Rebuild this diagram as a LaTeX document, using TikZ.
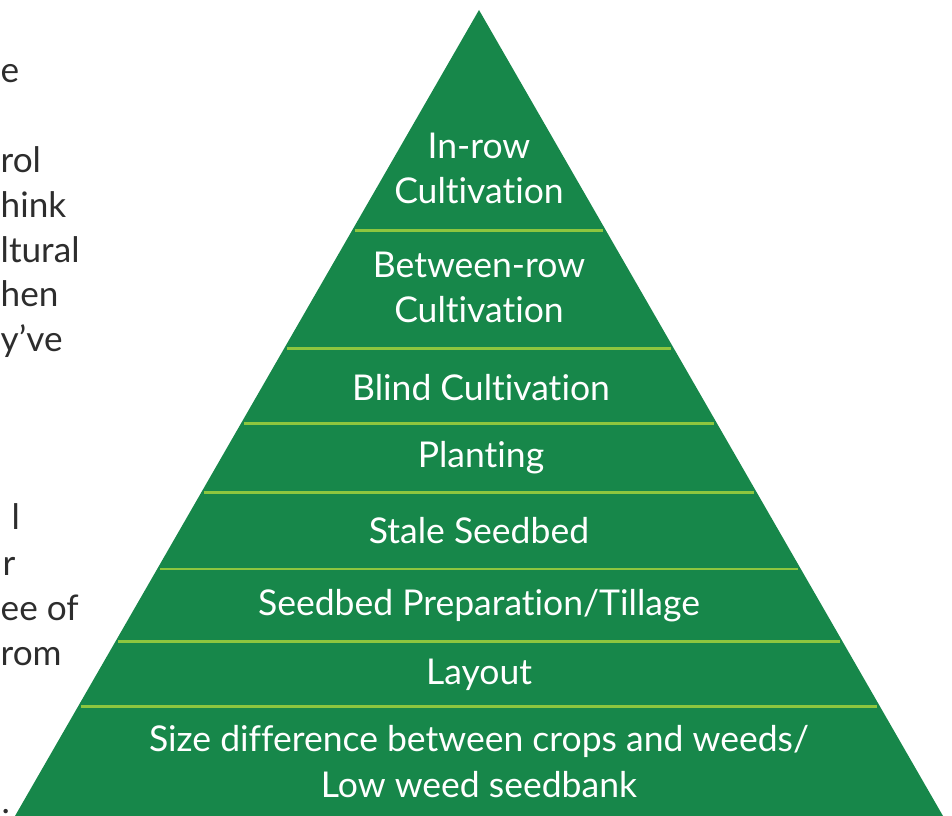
\documentclass[tikz,border=0pt]{standalone}
\usepackage{fontspec}
\setmainfont{Lato}[Ligatures=NoCommon]
\usetikzlibrary{positioning}
\definecolor{pyrgreen}{RGB}{23,135,74}
\definecolor{seplime}{RGB}{141,198,63}
\definecolor{bodygray}{RGB}{45,45,45}

\begin{document}
\begin{tikzpicture}[
    x=0.01cm, y=-0.01cm,
    lvl/.style={align=center, anchor=base, inner sep=0pt, text=white,
                font=\fontsize{10.1}{12.8}\selectfont},
    sep/.style={seplime, line width=0.8pt},
    frag/.style={anchor=base west, inner sep=0pt, text=bodygray,
                 font=\fontsize{10}{12.8}\selectfont}
]
\useasboundingbox (0,0) rectangle (952,816);

% ---- Body text cut at the page edge ----
\node[frag] (t1) at (0,83) {e};
\node[frag] (t2) at (0,173) {rol};
\node[frag] (t3) at (0,218) {hink};
\node[frag] (t4) at (0,263) {ltural};
\node[frag] (t5) at (0,307) {hen};
\node[frag] (t6) at (0,352) {y’ve};
\node[frag] (t7) at (11,530) {l};
\node[frag] (t8) at (2,575) {r};
\node[frag] (t9) at (0,620) {ee of};
\node[frag] (t10) at (0,665) {rom};
\node[frag] (t11) at (1,813) {.};

% ---- Pyramid ----
\coordinate (apex) at (479,10);
\coordinate (baseL) at (15,816);
\coordinate (baseR) at (943,816);
\fill[pyrgreen] (apex) -- (baseR) -- (baseL) -- cycle;

% ---- Level dividers ----
\coordinate (s1l) at (355,230.5); \coordinate (s1r) at (603,230.5);
\coordinate (s2l) at (287,348.3); \coordinate (s2r) at (671,348.3);
\coordinate (s3l) at (244,423.3); \coordinate (s3r) at (714,423.3);
\coordinate (s4l) at (204,492.7); \coordinate (s4r) at (754,492.7);
\coordinate (s5l) at (160,569);   \coordinate (s5r) at (798,569);
\coordinate (s6l) at (118,641.7); \coordinate (s6r) at (840,641.7);
\coordinate (s7l) at (81,706.7);  \coordinate (s7r) at (877,706.7);
\draw[sep] (s1l) -- (s1r);
\draw[sep] (s2l) -- (s2r);
\draw[sep] (s3l) -- (s3r);
\draw[sep] (s4l) -- (s4r);
\draw[sep] (s5l) -- (s5r);
\draw[sep] (s6l) -- (s6r);
\draw[sep] (s7l) -- (s7r);

% ---- Levels (base = last line) ----
\node[lvl] (inrow) at (479,204) {In-row\\Cultivation};
\node[lvl] (between) at (479,323) {Between-row\\Cultivation};
\node[lvl] (blind) at (481,401) {Blind Cultivation};
\node[lvl] (planting) at (481,468) {Planting};
\node[lvl] (stale) at (479,543) {Stale Seedbed};
\node[lvl] (tillage) at (479,615) {Seedbed Preparation/Tillage};
\node[lvl] (layout) at (479,684) {Layout};
\node[lvl] (sizediff) at (479,797) {Size difference between crops and weeds/\\Low weed seedbank};

\end{tikzpicture}
\end{document}
